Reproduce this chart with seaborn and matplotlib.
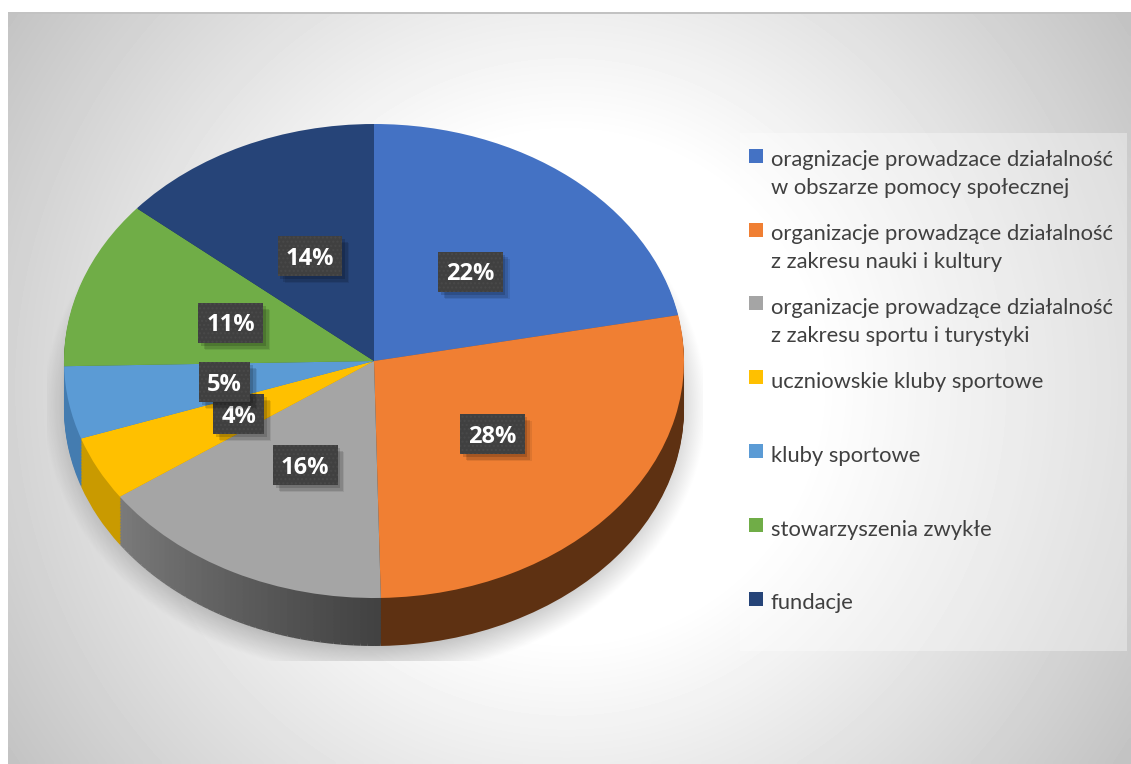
import numpy as np
import seaborn as sns
import matplotlib.pyplot as plt
from matplotlib.lines import Line2D
from matplotlib.patches import Rectangle
from matplotlib.path import Path
from matplotlib import patheffects as pe

# shares, the labels round them to whole percents
values = [21.9, 27.75, 15.65, 4.4, 4.95, 11.49, 13.86]
first_lines = [
    "oragnizacje prowadzace działalność",
    "organizacje prowadzące działalność",
    "organizacje prowadzące działalność",
    "uczniowskie kluby sportowe",
    "kluby sportowe",
    "stowarzyszenia zwykłe",
    "fundacje",
]
second_lines = [
    "w obszarze pomocy społecznej",
    "z zakresu nauki i kultury",
    "z zakresu sportu i turystyki",
    "",
    "",
    "",
    "",
]
top_colors = ["#4472C4", "#F07F33", "#A5A5A5", "#FFC000",
              "#5B9BD5", "#70AD47", "#264478"]
side_colors = ["#2F4F88", "#5E3112", "#A5A5A5", "#C99A00",
               "#447CB0", "#4E7A32", "#1A2F54"]

W, H = 1131, 764
CX, CY, RX, RY = 374, 361, 310, 237
DEPTH = 48


class PlainShadow(pe.SimplePatchShadow):
    """Patch shadow that leaves out the hatch of the patch"""

    def draw_path(self, renderer, gc, tpath, affine, rgbFace):
        hatch = gc.get_hatch()
        gc.set_hatch(None)
        super().draw_path(renderer, gc, tpath, affine, rgbFace)
        gc.set_hatch(hatch)


def label_box(x0, y0, width, height, mutation_size):
    """Square box raised a little, so the digits sit in its middle"""
    pad = 0.34 * mutation_size
    lift = 0.1 * mutation_size
    left, right = x0 - pad, x0 + width + pad
    low, high = y0 - pad + lift, y0 + height + pad + lift
    return Path([(left, low), (right, low), (right, high), (left, high),
                 (left, low)], closed=True)


sns.set_style("white")
plt.rcParams["font.family"] = ["Lato", "DejaVu Sans"]

fig = plt.figure(figsize=(W / 100, H / 100), dpi=100, facecolor="white")

# slide background, light in the middle and grey towards the corners
bg_ax = fig.add_axes([8 / W, 0, (W - 8) / W, (H - 12) / H], zorder=0)
xx, yy = np.meshgrid(np.arange(8, W, 4), np.arange(12, H, 4))
dist = np.hypot(xx - 565, yy - 385) / 560
shade = 255 - 80 * np.clip(dist - 0.45, 0, None)
bg_ax.imshow(shade, cmap="gray", vmin=0, vmax=255, aspect="auto",
             interpolation="bilinear")
bg_ax.axis("off")
fig.add_artist(Rectangle((8 / W, 1 - 14 / H), (W - 8) / W, 2 / H,
                         transform=fig.transFigure, color="#C2C2C2", lw=0))

ax = fig.add_axes([0, 0, 1, 1], zorder=1)
ax.patch.set_alpha(0)

# soft shadow under the pie, cut off by its rectangle
sx, sy = np.meshgrid(np.arange(47, 703, 2), np.arange(125, 662, 2))
sdist = np.hypot((sx - 374) / 332, (sy - 405) / 272)
shadow = np.zeros(sdist.shape + (4,))
shadow[..., 3] = 0.22 * np.clip((1 - sdist) / 0.11, 0, 1)
ax.imshow(shadow, aspect="auto", zorder=1, interpolation="bilinear",
          extent=((47 - CX) / RX, (703 - CX) / RX,
                  (CY - 661) / RY, (CY - 125) / RY))

# side wall: stacked copies of the pie, the grey slice split for its gradient
grey_steps = 45
grey_shades = sns.blend_palette(["#424242", "#7A7A7A"], grey_steps)
wall_sizes, wall_colors = [], []
for i, v in enumerate(values):
    if i == 2:
        wall_sizes += [v / grey_steps] * grey_steps
        wall_colors += list(grey_shades)
    else:
        wall_sizes.append(v)
        wall_colors.append(side_colors[i])
for dy in np.arange(DEPTH, 0, -1.5):
    ax.pie(wall_sizes, colors=wall_colors, startangle=90, counterclock=False,
           center=(0, -dy / RY), normalize=True,
           wedgeprops={"linewidth": 0, "zorder": 2})

wedges, _, pct_texts = ax.pie(
    values, colors=sns.color_palette(top_colors), startangle=90,
    counterclock=False, autopct="%.0f%%", pctdistance=0.49,
    wedgeprops={"linewidth": 0, "zorder": 3})

for t in pct_texts:
    t.set(color="white", fontsize=17, fontweight="bold", zorder=6,
          family=["Open Sans", "DejaVu Sans"], va="center_baseline")
    t.set_bbox({"boxstyle": label_box, "facecolor": "#404040",
                "edgecolor": "#494949", "hatch": "....", "linewidth": 0})
    t.get_bbox_patch().set_path_effects(
        [PlainShadow(offset=(5, -5), shadow_rgbFace="black", alpha=0.08),
         PlainShadow(offset=(4, -4), shadow_rgbFace="black", alpha=0.12),
         PlainShadow(offset=(2, -2), shadow_rgbFace="black", alpha=0.15),
         pe.Normal()])

ax.set_aspect("auto")
ax.set_xlim(-CX / RX, (W - CX) / RX)
ax.set_ylim((CY - H) / RY, CY / RY)
ax.axis("off")

# legend panel and entries
ax.add_patch(Rectangle((740 / W, 1 - 651 / H), 387 / W, 518 / H,
                       transform=fig.transFigure, facecolor="white",
                       alpha=0.35, lw=0, zorder=1.5))
# tall handle boxes keep every row the same height, whatever the accents do
handles = [Line2D([], [], ls="none", marker="s", ms=9.4, mfc=c, mew=0)
           for c in top_colors]
legend = ax.legend(handles, first_lines, loc="upper left", frameon=False,
                   bbox_to_anchor=(750 / W, 1 - 145 / H),
                   bbox_transform=fig.transFigure, fontsize=15.85,
                   labelcolor="#404040", borderpad=0, borderaxespad=0,
                   handlelength=0.59, handleheight=1.6, handletextpad=0.36,
                   labelspacing=2.07, numpoints=1)
legend.set_zorder(7)
for label, extra in zip(legend.get_texts(), second_lines):
    if extra:
        ax.annotate(extra, xy=(0, 0), xycoords=label, xytext=(0, -27.5 * 0.72),
                    textcoords="offset points", va="bottom", fontsize=15.85,
                    color="#404040", annotation_clip=False, zorder=8)

fig.savefig("out.png", dpi=100)
